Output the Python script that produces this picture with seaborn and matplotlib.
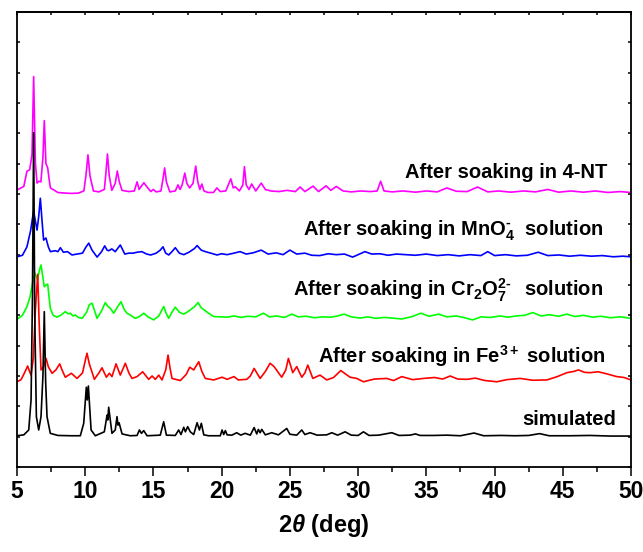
import numpy as np
import pandas as pd
import matplotlib
matplotlib.use("Agg")
import matplotlib.pyplot as plt
import seaborn as sns

# ---------------- data ----------------
samples = ["After soaking in 4-NT",
           "After soaking in MnO$_4^{\u2010}\\;$ solution",
           "After soaking in Cr$_2$O$_7^{2\u2010}\\;\\,$ solution",
           "After soaking in Fe$^{3+}$ solution",
           "simulated"]
colors = ["#FF00FF", "#0000FF", "#00FF00", "#FF0000", "#000000"]

nt_x = [5.0, 5.5, 5.73, 5.93, 6.1, 6.22, 6.35, 6.47, 6.6, 6.75, 6.9, 7.0, 7.12, 7.25, 7.35, 7.45,
        8.0, 8.5, 9.0, 9.5, 9.9, 10.05, 10.2, 10.35, 10.6, 11.0, 11.4, 11.5, 11.63, 11.76, 11.95,
        12.2, 12.35, 12.5, 12.7, 13.2, 13.6, 13.8, 13.95, 14.1, 14.3, 14.5, 14.8, 15.0, 15.2,
        15.55, 15.7, 15.82, 15.95, 16.2, 16.6, 16.8, 16.95, 17.1, 17.3, 17.45, 17.65, 17.9, 18.1,
        18.25, 18.4, 18.55, 18.7, 19.0, 19.4, 19.65, 19.9, 20.3, 20.67, 20.85, 21.0, 21.3, 21.55,
        21.67, 21.8, 22.0, 22.2, 22.5, 22.9, 23.2, 23.6, 24.2, 24.8, 25.4, 25.75, 26.1, 26.7,
        27.1, 27.65, 28.0, 28.4, 28.9, 29.5, 30.2, 30.9, 31.4, 31.65, 31.9, 32.5, 33.3, 34.2,
        35.0, 35.8, 36.5, 37.2, 38.0, 38.75, 39.5, 40.3, 41.2, 42.1, 43.0, 43.9, 44.7, 45.6,
        46.5, 47.4, 48.3, 49.2, 50.0]
nt_y = [9.13, 9.25, 9.75, 9.8, 10.3, 12.87, 10.0, 9.36, 9.42, 9.4, 10.2, 11.42, 10.0, 9.86, 9.5, 9.2,
        9.05, 9.03, 9.02, 9.03, 9.1, 9.6, 10.29, 9.6, 9.1, 9.07, 9.15, 9.6, 10.32, 9.6, 9.12,
        9.35, 9.76, 9.4, 9.12, 9.08, 9.1, 9.4, 9.15, 9.25, 9.37, 9.25, 9.08, 9.15, 9.07,
        9.1, 9.5, 9.86, 9.4, 9.07, 9.1, 9.3, 9.15, 9.3, 9.69, 9.35, 9.2, 9.35, 9.92,
        9.4, 9.15, 9.33, 9.1, 9.05, 9.05, 9.2, 9.08, 9.1, 9.5, 9.2, 9.24, 9.1, 9.3,
        9.9, 9.3, 9.15, 9.33, 9.1, 9.36, 9.15, 9.1, 9.08, 9.12, 9.08, 9.23, 9.08, 9.26,
        9.08, 9.27, 9.12, 9.25, 9.1, 9.07, 9.1, 9.08, 9.1, 9.42, 9.1, 9.07, 9.1, 9.06,
        9.1, 9.07, 9.2, 9.09, 9.08, 9.23, 9.07, 9.1, 9.06, 9.1, 9.07, 9.15, 9.06, 9.1,
        9.06, 9.1, 9.05, 9.08, 9.05]

mn_x = [5.0, 5.4, 5.73, 6.0, 6.22, 6.35, 6.47, 6.6, 6.71, 6.82, 6.95, 7.12, 7.3, 7.45, 7.8, 8.0,
        8.18, 8.4, 8.7, 9.03, 9.4, 9.8, 10.05, 10.26, 10.5, 10.87, 11.2, 11.43, 11.6, 11.72,
        11.95, 12.2, 12.57, 12.9, 13.2, 13.5, 13.8, 14.15, 14.5, 14.8, 15.2, 15.5, 15.7, 15.9,
        16.12, 16.4, 16.6, 16.9, 17.22, 17.6, 18.0, 18.2, 18.5, 18.8, 19.2, 19.66, 20.0, 20.4,
        20.9, 21.35, 21.8, 22.3, 22.9, 23.4, 24.0, 24.5, 25.0, 25.5, 26.1, 26.6, 27.2, 27.8,
        28.4, 29.0, 29.6, 30.0, 30.5, 31.0, 31.6, 32.2, 32.8, 33.5, 34.2, 35.0, 35.8, 36.6,
        37.4, 38.2, 39.0, 39.5, 40.0, 40.8, 41.6, 42.4, 43.2, 43.9, 44.7, 45.5, 46.3, 47.1,
        47.9, 48.7, 49.4, 50.0]
mn_y = [6.93, 6.98, 7.26, 7.8, 8.45, 8.1, 7.81, 8.3, 8.86, 8.2, 7.48, 7.55, 7.25, 7.1, 7.13, 7.1,
        7.23, 7.08, 7.1, 6.99, 7.02, 7.05, 7.25, 7.38, 7.15, 6.92, 7.1, 7.29, 7.15, 7.13,
        7.19, 7.1, 7.32, 7.02, 7.05, 7.05, 7.08, 7.1, 7.02, 6.99, 7.05, 7.15, 7.26, 7.05,
        6.99, 7.12, 7.23, 7.05, 7.0, 7.08, 7.2, 7.3, 7.15, 7.1, 7.05, 6.99, 7.03, 7.0,
        7.05, 7.1, 7.02, 7.06, 7.15, 7.02, 7.06, 7.0, 7.15, 7.02, 7.05, 6.98, 6.97, 7.03,
        7.0, 7.02, 6.92, 7.0, 7.1, 7.02, 7.03, 6.98, 7.02, 7.0, 6.98, 7.02, 6.97, 7.0,
        6.96, 7.0, 6.97, 7.1, 6.97, 7.0, 6.96, 6.98, 7.08, 6.97, 6.99, 6.95, 6.98, 6.95,
        6.97, 6.93, 6.95, 6.93]

cr_x = [5.0, 5.4, 5.73, 5.95, 6.15, 6.32, 6.5, 6.65, 6.76, 6.88, 7.0, 7.12, 7.25, 7.44, 7.65,
        7.93, 8.2, 8.54, 8.75, 8.91, 9.1, 9.27, 9.5, 9.77, 10.1, 10.3, 10.5, 10.65, 10.87,
        11.2, 11.47, 11.65, 11.84, 12.09, 12.4, 12.62, 12.85, 13.06, 13.4, 13.67, 14.0, 14.29,
        14.6, 15.02, 15.4, 15.75, 15.95, 16.12, 16.35, 16.6, 16.9, 17.22, 17.45, 17.7, 18.0,
        18.27, 18.5, 18.8, 19.1, 19.42, 19.9, 20.4, 20.9, 21.4, 21.9, 22.5, 23.06, 23.5, 24.0,
        24.6, 25.14, 25.6, 26.2, 26.8, 27.4, 28.0, 28.5, 28.97, 29.5, 30.15, 30.7, 31.3, 31.9,
        32.5, 33.2, 33.9, 34.6, 35.2, 35.9, 36.5, 37.2, 37.8, 38.4, 39.0, 39.7, 40.4, 41.0,
        41.6, 42.2, 42.8, 43.4, 44.0, 44.7, 45.3, 45.9, 46.5, 47.2, 47.8, 48.5, 49.2, 50.0]
cr_y = [4.87, 5.0, 5.29, 5.6, 6.1, 6.39, 6.17, 6.5, 6.66, 6.3, 5.94, 6.0, 6.03, 5.23, 5.0,
        4.94, 5.0, 5.12, 5.05, 5.07, 4.98, 5.01, 4.93, 4.9, 5.1, 5.35, 5.4, 5.2, 4.9,
        5.15, 5.42, 5.3, 5.23, 5.07, 5.3, 5.45, 5.2, 5.07, 4.98, 4.9, 4.97, 5.07,
        4.95, 4.85, 4.98, 5.29, 5.05, 4.9, 5.1, 5.27, 5.1, 5.04, 5.1, 5.18, 5.28,
        5.42, 5.25, 5.15, 5.05, 4.96, 4.95, 4.94, 4.98, 4.93, 4.97, 4.95, 5.07, 4.95, 4.98,
        4.93, 5.04, 4.95, 4.97, 4.92, 4.95, 4.94, 4.98, 5.04, 4.95, 4.91, 4.95, 4.9, 4.93,
        4.91, 4.88, 4.95, 5.07, 4.97, 5.04, 4.95, 4.98, 4.92, 4.85, 4.95, 4.93, 4.98, 4.94,
        4.98, 5.0, 5.09, 4.98, 5.02, 4.97, 5.04, 4.96, 5.0, 4.94, 4.97, 4.92, 4.95, 4.9]

fe_x = [5.0, 5.3, 5.6, 5.78, 5.92, 6.03, 6.2, 6.35, 6.52, 6.62, 6.76, 6.95, 7.13, 7.3, 7.57,
        7.85, 8.13, 8.3, 8.54, 8.98, 9.4, 9.8, 10.0, 10.13, 10.3, 10.67, 11.0, 11.23, 11.55,
        11.77, 11.96, 12.26, 12.57, 12.94, 13.2, 13.43, 13.8, 14.21, 14.65, 14.9, 15.14, 15.39,
        15.63, 15.9, 16.07, 16.22, 16.36, 16.97, 17.4, 17.66, 17.95, 18.32, 18.55, 18.8, 19.42,
        20.03, 20.4, 20.9, 21.22, 21.84, 22.1, 22.38, 22.82, 23.2, 23.55, 23.84, 24.4, 24.7,
        24.89, 25.21, 25.5, 25.87, 26.1, 26.31, 26.68, 27.21, 27.7, 28.2, 28.73, 29.41, 29.9,
        30.39, 31.2, 32.1, 32.6, 33.2, 34.0, 34.79, 35.6, 36.2, 36.75, 37.3, 37.97, 38.6, 39.3,
        40.17, 40.9, 41.88, 42.8, 43.83, 44.6, 45.3, 45.8, 46.15, 46.6, 47.0, 47.6, 48.23,
        48.96, 49.5, 50.0]
fe_y = [2.81, 2.88, 3.15, 3.33, 3.15, 3.03, 3.6, 5.2, 6.35, 4.8, 3.2, 3.3, 3.58, 3.3, 3.09,
        3.2, 3.4, 3.2, 2.96, 3.09, 2.92, 3.1, 3.5, 3.75, 3.4, 2.89, 3.1, 3.27, 2.96,
        3.09, 2.98, 3.4, 3.03, 3.42, 3.1, 2.92, 2.98, 3.14, 2.89, 3.0, 2.89, 3.03,
        2.87, 3.2, 3.69, 3.25, 2.92, 2.85, 3.05, 3.29, 3.2, 3.47, 3.15, 2.92, 2.87,
        2.96, 2.89, 2.98, 2.87, 2.89, 3.0, 3.25, 2.92, 3.15, 3.42, 3.31, 2.96, 3.2,
        3.58, 3.11, 3.31, 2.96, 3.1, 3.36, 2.92, 3.03, 2.87, 2.95, 3.18, 2.96, 2.92,
        2.81, 2.9, 2.92, 2.85, 2.98, 2.88, 2.92, 2.95, 2.9, 3.0, 2.9, 2.89, 2.93, 2.85,
        2.81, 2.88, 2.92, 2.86, 2.87, 2.98, 3.11, 3.15, 3.2, 3.12, 3.11, 3.14, 3.07,
        2.98, 2.95, 2.87]

sim_x = [5.0, 5.5, 5.86, 6.03, 6.13, 6.22, 6.3, 6.42, 6.59, 6.76, 6.9, 7.0, 7.1, 7.2, 7.44,
         8.0, 9.0, 9.64, 9.89, 10.08, 10.15, 10.23, 10.43, 10.74, 11.4, 11.6, 11.65, 11.72,
         11.96, 12.2, 12.33, 12.4, 12.48, 12.7, 13.3, 13.8, 13.97, 14.12, 14.29, 14.53, 15.5,
         15.75, 15.95, 16.6, 16.85, 17.02, 17.22, 17.34, 17.51, 17.7, 17.95, 18.2, 18.37,
         18.51, 18.69, 19.05, 19.9, 20.03, 20.15, 20.27, 20.4, 20.75, 21.1, 21.4, 21.72, 22.1,
         22.38, 22.57, 22.69, 22.82, 22.94, 23.2, 23.67, 24.16, 24.77, 25.0, 25.5, 25.87, 26.1,
         26.48, 27.0, 27.7, 28.07, 28.5, 29.05, 29.5, 30.0, 30.39, 30.8, 31.5, 32.47, 33.0,
         33.8, 34.2, 34.55, 35.5, 36.5, 37.5, 38.5, 39.2, 40.5, 41.5, 42.5, 43.3, 44.0, 45.5,
         47.0, 48.5, 50.0]
sim_y = [1.03, 1.06, 1.22, 2.21, 5.5, 11.02, 5.0, 1.66, 1.22, 1.66, 3.0, 5.12, 2.8, 1.66, 1.11,
         1.04, 1.03, 1.03, 1.44, 2.63, 2.21, 2.67, 1.22, 1.03, 1.16, 1.71, 1.55, 1.97,
         1.11, 1.22, 1.66, 1.38, 1.46, 1.09, 1.03, 1.04, 1.22, 1.11, 1.2, 1.03, 1.05,
         1.49, 1.05, 1.04, 1.22, 1.07, 1.31, 1.16, 1.33, 1.16, 1.07, 1.46, 1.22,
         1.44, 1.06, 1.03, 1.03, 1.22, 1.07, 1.2, 1.06, 1.05, 1.13, 1.05, 1.11, 1.05,
         1.3, 1.09, 1.24, 1.13, 1.24, 1.06, 1.13, 1.06, 1.27, 1.08, 1.05, 1.22, 1.07,
         1.13, 1.05, 1.06, 1.13, 1.05, 1.16, 1.05, 1.04, 1.16, 1.04, 1.05, 1.13, 1.04,
         1.05, 1.09, 1.04, 1.04, 1.05, 1.03, 1.12, 1.03, 1.04, 1.03, 1.04, 1.1, 1.03, 1.03,
         1.04, 1.02, 1.02]

x_ticks = [5, 10, 15, 20, 25, 30, 35, 40, 45, 50]
x_label = r"2$\mathit{\theta}$ (deg)"

# ---------------- build long-form table ----------------
series_x = [nt_x, mn_x, cr_x, fe_x, sim_x]
series_y = [nt_y, mn_y, cr_y, fe_y, sim_y]
frames = [pd.DataFrame({"two_theta": sx, "intensity": sy, "sample": name})
          for sx, sy, name in zip(series_x, series_y, samples)]
df = pd.concat(frames, ignore_index=True)

# ---------------- style ----------------
sns.set_style("white")
plt.rcParams["font.family"] = ["Liberation Sans", "DejaVu Sans"]
plt.rcParams["font.weight"] = "bold"
plt.rcParams["text.color"] = "black"
plt.rcParams["axes.labelcolor"] = "black"
plt.rcParams["xtick.color"] = "black"
plt.rcParams["ytick.color"] = "black"
plt.rcParams["axes.edgecolor"] = "black"
plt.rcParams["mathtext.fontset"] = "custom"
plt.rcParams["mathtext.rm"] = "Liberation Sans:bold"
plt.rcParams["mathtext.it"] = "Liberation Sans:italic:bold"
plt.rcParams["mathtext.bf"] = "Liberation Sans:bold"
plt.rcParams["mathtext.default"] = "rm"

fig = plt.figure(figsize=(6.43, 5.52), dpi=100)
ax = fig.add_axes([17 / 643, 85 / 552, 614 / 643, 455 / 552])

sns.lineplot(data=df, x="two_theta", y="intensity", hue="sample",
             hue_order=samples, palette=dict(zip(samples, colors)),
             sort=False, estimator=None, linewidth=1.2, legend=False, ax=ax)

ax.set_xlim(5, 50)
ax.set_ylim(0, 15)

for sp in ax.spines.values():
    sp.set_linewidth(1.3)
    sp.set_color("black")

# x axis (bottom, outward ticks)
ax.set_xticks(x_ticks)
ax.set_xticklabels([str(t) for t in x_ticks])
ax.xaxis.set_minor_locator(matplotlib.ticker.MultipleLocator(2.5))
ax.tick_params(axis="x", which="major", direction="out", length=6.5, width=1.1,
               labelsize=16.5, pad=3, bottom=True, top=False, colors="black")
ax.tick_params(axis="x", which="minor", direction="out", length=3.6, width=1.1,
               bottom=True, top=False, colors="black")
for lab in ax.get_xticklabels():
    lab.set_fontweight("bold")

# top axis: inward ticks, no labels
sec = ax.secondary_xaxis("top")
sec.set_xticks(x_ticks)
sec.xaxis.set_minor_locator(matplotlib.ticker.MultipleLocator(2.5))
sec.tick_params(axis="x", which="both", direction="in", length=2.5, width=1.1,
                labeltop=False, colors="black")
sec.spines["top"].set_linewidth(1.3)
sec.spines["top"].set_color("black")

# y axis: inward ticks both sides, no labels
ax.yaxis.set_major_locator(matplotlib.ticker.MultipleLocator(1))
ax.tick_params(axis="y", which="both", direction="in", length=2.5, width=1.1,
               left=True, right=True, labelleft=False, labelright=False, colors="black")

ax.set_xlabel(x_label, fontsize=17, fontweight="bold", labelpad=6, color="black")
ax.set_ylabel("")

# series labels
label_pos = [(48.26, 9.53), (47.96, 7.62), (47.96, 5.64), (48.1, 3.43), (48.9, 1.38)]
for name, (lx, ly) in zip(samples, label_pos):
    ax.text(lx, ly, name, ha="right", va="baseline", fontsize=14.5, fontweight="bold",
            color="black")

fig.savefig("out.png", dpi=100)
